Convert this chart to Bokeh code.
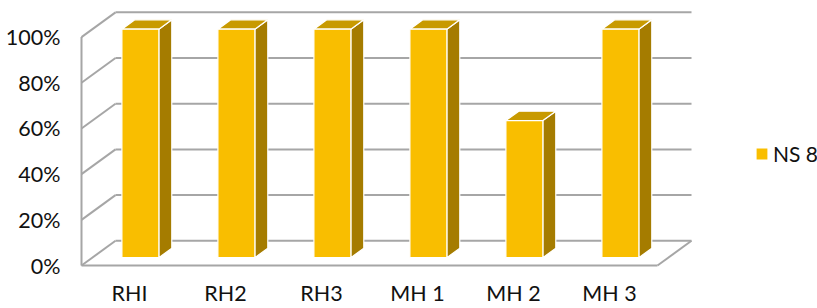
from bokeh.plotting import figure
from bokeh.models import (FixedTicker, NumeralTickFormatter,
                          Legend, LegendItem, Range1d)
from bokeh.embed import file_html
from bokeh.resources import INLINE

# ---- data ----
categories = ["RHI", "RH2", "RH3", "MH 1", "MH 2", "MH 3"]
values = [1.0, 1.0, 1.0, 1.0, 0.6, 1.0]
series_name = "NS 8"
y_ticks = [0.0, 0.2, 0.4, 0.6, 0.8, 1.0]

# ---- pseudo-3D geometry (in data units) ----
DX = 34 / 96.0      # depth offset along x (category units)
DY = 25 / 231.0     # depth offset along y (value units)
Z0, Z1 = 0.32, 0.70  # bar front / back depth fractions
BW = 0.385          # bar width

FRONT = "#F9BE00"
SIDE = "#A57C00"
TOP = "#C89A00"
GRID = "#A6A6A6"
TEXT = "#111111"
FONT = "Lato"
FS = "21.5px"

W, H = 817, 308
ML, MB = 78, 38
frame_w = W - ML
frame_h = H - MB
px_x = 96.0
px_y = 231.0
x0 = -(129 - ML) / px_x
y1 = 1.0 + 37 / px_y
p = figure(width=W, height=H, output_backend="svg", toolbar_location=None,
           x_range=Range1d(x0, x0 + frame_w / px_x),
           y_range=Range1d(y1 - frame_h / px_y, y1),
           min_border_left=ML, min_border_right=0, min_border_top=0,
           min_border_bottom=MB)
p.outline_line_color = None
p.xgrid.visible = False
p.ygrid.visible = False

n = len(categories)
xl_wall = -0.5
xr_wall = n - 0.5

# back wall gridlines
gx0, gx1, gy = [], [], []
for t in y_ticks:
    gx0.append(xl_wall + DX)
    gx1.append(xr_wall + DX)
    gy.append(t + DY)
p.segment(x0=gx0, y0=gy, x1=gx1, y1=gy, line_color=GRID, line_width=2)
# left wall diagonals
p.segment(x0=[xl_wall] * len(y_ticks), y0=y_ticks,
          x1=[xl_wall + DX] * len(y_ticks), y1=[t + DY for t in y_ticks],
          line_color=GRID, line_width=2)
# left wall front edge
p.segment(x0=[xl_wall], y0=[y_ticks[0]], x1=[xl_wall], y1=[y_ticks[-1]],
          line_color=GRID, line_width=2)
# floor front edge and right diagonal
p.segment(x0=[xl_wall, xr_wall], y0=[0, 0], x1=[xr_wall, xr_wall + DX], y1=[0, DY],
          line_color=GRID, line_width=2)

# bars
xs_side, ys_side, xs_top, ys_top = [], [], [], []
lefts, rights, bottoms, tops = [], [], [], []
for i, v in enumerate(values):
    xl = i - BW / 2
    xr = i + BW / 2
    lefts.append(xl + Z0 * DX)
    rights.append(xr + Z0 * DX)
    bottoms.append(Z0 * DY)
    tops.append(v + Z0 * DY)
    xs_side.append([xr + Z0 * DX, xr + Z1 * DX, xr + Z1 * DX, xr + Z0 * DX])
    ys_side.append([Z0 * DY, Z1 * DY, v + Z1 * DY, v + Z0 * DY])
    xs_top.append([xl + Z0 * DX, xr + Z0 * DX, xr + Z1 * DX, xl + Z1 * DX])
    ys_top.append([v + Z0 * DY, v + Z0 * DY, v + Z1 * DY, v + Z1 * DY])

p.patches(xs=xs_side, ys=ys_side, fill_color=SIDE, line_color="white", line_width=1.2)
p.patches(xs=xs_top, ys=ys_top, fill_color=TOP, line_color="white", line_width=1.2)
front = p.quad(left=lefts, right=rights, bottom=bottoms, top=tops,
               fill_color=FRONT, line_color="white", line_width=1.2)

# axes
p.yaxis.ticker = FixedTicker(ticks=y_ticks)
p.yaxis.formatter = NumeralTickFormatter(format="0%")
p.yaxis.axis_line_color = None
p.yaxis.major_tick_line_color = None
p.yaxis.minor_tick_line_color = None
p.yaxis.major_tick_out = 0
p.yaxis.major_tick_in = 0
p.yaxis.major_label_standoff = 18
p.yaxis.major_label_text_font = FONT
p.yaxis.major_label_text_font_size = FS
p.yaxis.major_label_text_color = TEXT

p.xaxis.ticker = FixedTicker(ticks=list(range(n)))
p.xaxis.major_label_overrides = {i: c for i, c in enumerate(categories)}
p.xaxis.axis_line_color = None
p.xaxis.major_tick_line_color = None
p.xaxis.minor_tick_line_color = None
p.xaxis.major_tick_out = 0
p.xaxis.major_tick_in = 0
p.xaxis.major_label_standoff = 12
p.xaxis.major_label_text_font = FONT
p.xaxis.major_label_text_font_size = FS
p.xaxis.major_label_text_color = TEXT

legend = Legend(items=[LegendItem(label=series_name, renderers=[front])],
                location=(676, 101), glyph_width=15, glyph_height=15,
                label_text_font=FONT, label_text_font_size="21px",
                label_text_color=TEXT, label_standoff=4, padding=0, margin=0,
                border_line_color=None, background_fill_alpha=0)
p.add_layout(legend)

open("out.html", "w").write(file_html(p, INLINE))
